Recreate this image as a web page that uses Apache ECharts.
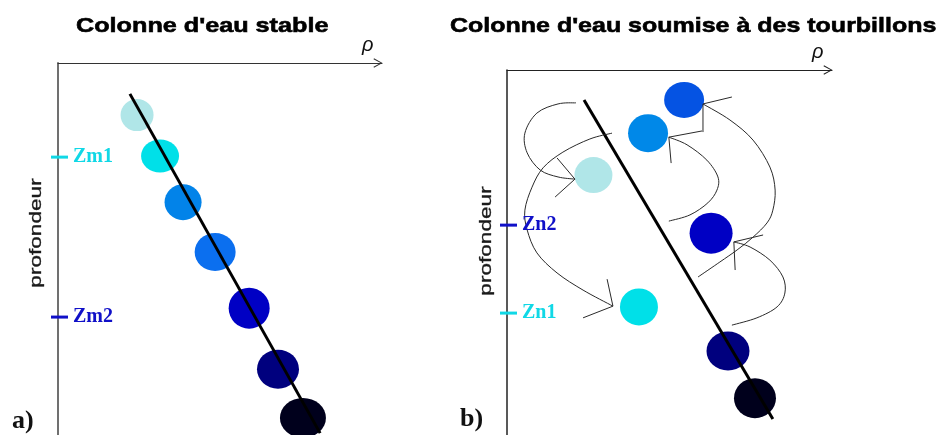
<!DOCTYPE html>
<html>
<head>
<meta charset="utf-8">
<script src="https://cdn.jsdelivr.net/npm/echarts@6/dist/echarts.min.js"></script>
<style>
  html, body { margin: 0; padding: 0; background: #fff; }
  #chart { width: 943px; height: 435px; }
</style>
</head>
<body>
<div id="chart"></div>
<script>
// ---- Panel a) : stable water column (density rho 0-100, depth 0-100) ----
const DENSITY_A = [24.4, 31.5, 38.6, 48.5, 59.0, 67.9, 75.6];
const DEPTH_A   = [14.0, 25.0, 37.4, 50.8, 65.9, 82.3, 95.4];
const PROFILE_A_RHO = [22.2, 80.9];
const PROFILE_A_Z   = [8.3, 99.5];
const LEVELS_A      = [25.3, 68.3];
const LEVEL_NAMES_A = ['Zm1', 'Zm2'];

// ---- Panel b) : water column stirred by eddies ----
const DENSITY_B = [26.6, 40.6, 43.4, 54.5, 62.8, 68.0, 76.3];
const DEPTH_B   = [28.8, 64.9, 17.3, 8.2, 44.7, 77.0, 89.9];
const PROFILE_B_RHO = [23.7, 81.8];
const PROFILE_B_Z   = [8.2, 95.6];
const LEVELS_B      = [42.5, 66.6];
const LEVEL_NAMES_B = ['Zn2', 'Zn1'];

// eddy trajectories [rho, depth], tail first, and their arrow heads
const EDDY_1 = [[21.2, 9.0], [15.7, 9.3], [9.2, 11.8], [5.5, 17.3], [6.2, 22.7], [10.2, 27.4], [15.7, 29.3], [20.9, 29.9]];
const HEAD_1 = [[15.4, 24.1], [20.9, 29.9], [14.8, 34.8]];
const EDDY_2 = [[32.3, 17.3], [25.5, 18.9], [17.2, 22.5], [11.1, 26.8], [7.7, 32.1], [5.5, 38.4], [6.2, 43.8], [9.2, 50.1], [15.4, 55.6], [23.4, 60.3], [32.6, 64.7]];
const HEAD_2 = [[30.8, 57.3], [32.6, 64.7], [23.4, 67.9]];
const EDDY_3 = [[49.8, 41.4], [56.3, 39.7], [61.8, 36.4], [64.6, 32.9], [64.9, 29.3], [61.5, 24.7], [55.4, 20.5], [49.8, 18.4]];
const HEAD_3 = [[60.0, 16.7], [49.8, 18.4], [50.5, 25.5]];
const EDDY_4 = [[58.8, 56.7], [65.5, 52.6], [70.8, 49.3], [75.7, 45.8], [80.0, 41.9], [81.8, 38.4], [82.5, 32.9], [80.9, 26.6], [75.7, 19.2], [68.6, 13.7], [60.3, 9.3]];
const HEAD_4 = [[69.2, 7.4], [60.3, 9.3], [60.3, 17.0]];
const EDDY_5 = [[69.2, 69.9], [76.9, 67.9], [83.1, 64.9], [85.5, 61.1], [84.9, 56.7], [80.9, 52.1], [74.8, 48.5], [69.8, 47.1]];
const HEAD_5 = [[78.8, 45.2], [69.8, 47.1], [70.2, 54.8]];

// ---- styling ----
const COLORS_A = ['#b0e6e8', '#00e0e8', '#0283e9', '#0b6fef', '#0000c4', '#00007e', '#00001c'];
const COLORS_B = ['#b0e6e8', '#00e0e8', '#0088e8', '#0553e3', '#0000c4', '#00007e', '#00001c'];
const SIZES_A = [[33, 32], [38, 33], [37, 36], [41, 38], [41, 41], [42, 39], [46, 40]];
const SIZES_B = [[38, 36], [38, 37], [40, 38], [40, 36], [43, 41], [43, 39], [42, 40]];
const LEVEL_COLORS_A = ['#10d8e6', '#1010c8'];
const LEVEL_COLORS_B = ['#1010c8', '#10d8e6'];

const zip = (a, b) => a.map((v, i) => [v, b[i]]);
const chevron = 'path://M0,10 L5.5,0 L11,10 L10,10.6 L5.5,2.2 L1,10.6 Z';

function axesFor(gridIndex, axisColorX, axisColorY, widthY) {
  return {
    x: {
      type: 'value', gridIndex, min: 0, max: 100, position: 'top',
      name: 'ρ', nameLocation: 'end', nameGap: -20,
      nameTextStyle: { fontFamily: 'Liberation Sans', fontStyle: 'italic', fontSize: 20, color: '#111',
                       verticalAlign: 'bottom', padding: [0, 0, 8, 0] },
      axisLine: { show: true, onZero: false, symbol: ['none', chevron], symbolSize: [11, 9], symbolOffset: [0, -4],
                  lineStyle: { color: axisColorX, width: 1 } },
      axisTick: { show: false }, axisLabel: { show: false }, splitLine: { show: false }
    },
    y: {
      type: 'value', gridIndex, min: 0, max: 100, inverse: true,
      axisLine: { show: true, onZero: false, lineStyle: { color: axisColorY, width: widthY } },
      axisTick: { show: false }, axisLabel: { show: false }, splitLine: { show: false }
    }
  };
}
const axA = axesFor(0, '#333', '#707070', 2);
const axB = axesFor(1, '#222', '#222', 1.5);

function parcels(idx, rho, z, colors, sizes) {
  return {
    type: 'scatter', xAxisIndex: idx, yAxisIndex: idx, silent: true, clip: false, z: 2,
    data: zip(rho, z),
    symbol: 'circle',
    symbolSize: (v, p) => sizes[p.dataIndex],
    itemStyle: { opacity: 1, color: p => colors[p.dataIndex] }
  };
}
function profile(idx, rho, z) {
  return {
    type: 'line', xAxisIndex: idx, yAxisIndex: idx, silent: true, z: 3,
    data: zip(rho, z), showSymbol: false, symbol: 'none',
    lineStyle: { color: '#000', width: 3 }
  };
}
function levels(idx, lv, names, colors) {
  return {
    type: 'scatter', xAxisIndex: idx, yAxisIndex: idx, silent: true, clip: false, z: 5,
    symbol: 'rect', symbolSize: [17, 3], symbolOffset: [1.5, 0],
    data: lv.map((d, i) => ({
      value: [0, d], name: names[i],
      itemStyle: { color: colors[i], opacity: 1 },
      label: { color: colors[i] }
    })),
    label: { show: true, position: 'right', distance: 5, formatter: '{b}',
             fontFamily: 'Liberation Serif', fontWeight: 'bold', fontSize: 20 }
  };
}

// smooth eddy trajectory (Catmull-Rom through the points) plus an open arrow head
function eddy(pts, head) {
  return {
    type: 'custom', coordinateSystem: 'cartesian2d', xAxisIndex: 1, yAxisIndex: 1, silent: true, z: 4,
    data: pts,
    renderItem(params, api) {
      if (params.dataIndex !== 0) return null;
      const P = pts.map(p => api.coord(p));
      let d = 'M' + P[0][0] + ',' + P[0][1];
      for (let i = 0; i < P.length - 1; i++) {
        const p0 = P[Math.max(i - 1, 0)], p1 = P[i], p2 = P[i + 1], p3 = P[Math.min(i + 2, P.length - 1)];
        const c1 = [p1[0] + (p2[0] - p0[0]) / 6, p1[1] + (p2[1] - p0[1]) / 6];
        const c2 = [p2[0] - (p3[0] - p1[0]) / 6, p2[1] - (p3[1] - p1[1]) / 6];
        d += ' C' + c1[0] + ',' + c1[1] + ' ' + c2[0] + ',' + c2[1] + ' ' + p2[0] + ',' + p2[1];
      }
      const H = head.map(p => api.coord(p));
      return {
        type: 'group',
        children: [
          { type: 'path', shape: { pathData: d }, style: { fill: 'none', stroke: '#2a2a2a', lineWidth: 1 } },
          { type: 'polyline', shape: { points: H }, style: { fill: 'none', stroke: '#2a2a2a', lineWidth: 1 } }
        ]
      };
    }
  };
}

const series = [
  parcels(0, DENSITY_A, DEPTH_A, COLORS_A, SIZES_A),
  profile(0, PROFILE_A_RHO, PROFILE_A_Z),
  levels(0, LEVELS_A, LEVEL_NAMES_A, LEVEL_COLORS_A),
  parcels(1, DENSITY_B, DEPTH_B, COLORS_B, SIZES_B),
  profile(1, PROFILE_B_RHO, PROFILE_B_Z),
  levels(1, LEVELS_B, LEVEL_NAMES_B, LEVEL_COLORS_B),
  eddy(EDDY_1, HEAD_1),
  eddy(EDDY_2, HEAD_2),
  eddy(EDDY_3, HEAD_3),
  eddy(EDDY_4, HEAD_4),
  eddy(EDDY_5, HEAD_5)
];

const titleFont = 'bold 21px "Liberation Sans", Arial, sans-serif';
const depthFont = '17px "Liberation Sans", Arial, sans-serif';
const tagFont = 'bold 26px "Liberation Serif", "Times New Roman", serif';

const chart = echarts.init(document.getElementById('chart'), null, { renderer: 'canvas' });
chart.setOption({
  animation: false,
  backgroundColor: '#fff',
  grid: [
    { left: 58, top: 63, width: 324, height: 372 },
    { left: 507, top: 70, width: 325, height: 365 }
  ],
  xAxis: [axA.x, axB.x],
  yAxis: [axA.y, axB.y],
  series,
  graphic: [
    { type: 'text', x: 76, y: 26, scaleX: 1.2, silent: true,
      style: { text: "Colonne d'eau stable", font: titleFont, fill: '#000', stroke: '#000', lineWidth: 0.6,
               align: 'left', verticalAlign: 'middle' } },
    { type: 'text', x: 450, y: 26, scaleX: 1.19, silent: true,
      style: { text: "Colonne d'eau soumise à des tourbillons", font: titleFont, fill: '#000', stroke: '#000', lineWidth: 0.6,
               align: 'left', verticalAlign: 'middle' } },
    { type: 'text', x: 36.5, y: 233, rotation: Math.PI / 2, scaleX: 1.33, silent: true,
      style: { text: 'profondeur', font: depthFont, fill: '#1a1a1a', stroke: '#1a1a1a', lineWidth: 0.3,
               align: 'center', verticalAlign: 'middle' } },
    { type: 'text', x: 486, y: 241, rotation: Math.PI / 2, scaleX: 1.33, silent: true,
      style: { text: 'profondeur', font: depthFont, fill: '#1a1a1a', stroke: '#1a1a1a', lineWidth: 0.3,
               align: 'center', verticalAlign: 'middle' } },
    { type: 'text', x: 12, y: 421, silent: true,
      style: { text: 'a)', font: tagFont, fill: '#111', align: 'left', verticalAlign: 'middle' } },
    { type: 'text', x: 460, y: 419, silent: true,
      style: { text: 'b)', font: tagFont, fill: '#111', align: 'left', verticalAlign: 'middle' } }
  ]
});
</script>
</body>
</html>
